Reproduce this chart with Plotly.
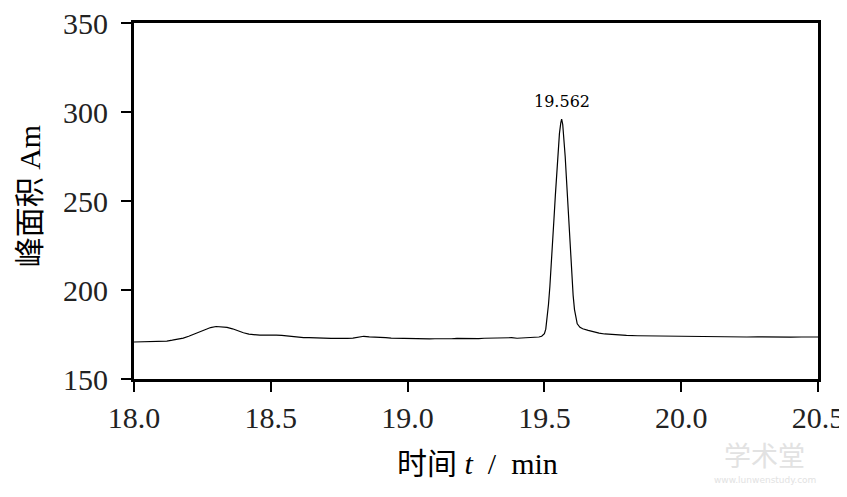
import plotly.graph_objects as go

# retention time (min) and detector response (Am)
time_min = [
    18.00, 18.02, 18.04, 18.06, 18.08, 18.10, 18.12, 18.14, 18.16, 18.18,
    18.20, 18.22, 18.24, 18.26, 18.28, 18.30, 18.32, 18.34, 18.36, 18.38,
    18.40, 18.42, 18.44, 18.46, 18.48, 18.50, 18.52, 18.54, 18.56, 18.58,
    18.60, 18.62, 18.64, 18.66, 18.68, 18.70, 18.72, 18.74, 18.76, 18.78,
    18.80, 18.82, 18.84, 18.86, 18.88, 18.90, 18.92, 18.94, 18.96, 18.98,
    19.00, 19.02, 19.04, 19.06, 19.08, 19.10, 19.12, 19.14, 19.16, 19.18,
    19.20, 19.22, 19.24, 19.26, 19.28, 19.30, 19.32, 19.34, 19.36, 19.38,
    19.40, 19.42, 19.44, 19.46, 19.48, 19.49, 19.50, 19.505, 19.51, 19.515,
    19.52, 19.525, 19.53, 19.535, 19.54, 19.545, 19.55, 19.555, 19.56, 19.563,
    19.567, 19.572, 19.576, 19.58, 19.585, 19.59, 19.595, 19.60, 19.605, 19.61,
    19.615, 19.62, 19.63, 19.64, 19.66, 19.68, 19.70, 19.72, 19.74, 19.76,
    19.78, 19.80, 19.84, 19.88, 19.92, 19.96, 20.00, 20.04, 20.08, 20.12,
    20.16, 20.20, 20.24, 20.28, 20.32, 20.36, 20.40, 20.44, 20.48, 20.50,
]
response = [
    170.8, 170.9, 170.7, 171.0, 170.9, 171.2, 171.3, 171.8, 172.3, 173.0,
    174.0, 175.3, 176.6, 177.8, 178.9, 179.5, 179.3, 179.0, 178.2, 177.0,
    176.0, 175.2, 174.8, 174.6, 174.7, 174.8, 174.7, 174.5, 174.1, 173.7,
    173.4, 173.3, 173.2, 173.0, 173.1, 172.9, 172.8, 172.9, 172.7, 172.8,
    173.0, 173.5, 174.0, 173.7, 173.4, 173.3, 173.2, 173.0, 172.9, 172.7,
    172.6, 172.5, 172.5, 172.4, 172.5, 172.6, 172.5, 172.7, 172.6, 172.8,
    172.7, 172.9, 172.8, 172.7, 172.9, 173.0, 172.8, 173.1, 173.0, 173.2,
    172.9, 173.1, 173.3, 173.2, 173.6, 174.0, 175.5, 178.0, 184.0, 192.0,
    202.0, 213.0, 226.0, 240.0, 253.0, 265.0, 278.0, 288.0, 294.0, 296.0,
    293.0, 285.0, 275.0, 264.0, 250.0, 236.0, 222.0, 208.0, 197.0, 189.0,
    184.0, 181.0, 179.0, 178.2, 177.3, 176.4, 175.8, 175.3, 175.0, 174.8,
    174.6, 174.5, 174.3, 174.2, 174.1, 174.0, 173.9, 173.9, 173.8, 173.8,
    173.7, 173.8, 173.6, 173.7, 173.5, 173.6, 173.5, 173.6, 173.5, 173.6,
]

peak_label = "19.562"
peak_time = 19.563
peak_value = 296.0

x_ticks = [18.0, 18.5, 19.0, 19.5, 20.0, 20.5]
x_tick_text = ["18.0", "18.5", "19.0", "19.5", "20.0", "20.5"]
y_ticks = [150, 200, 250, 300, 350]

serif = "Liberation Serif, Times New Roman, Noto Sans CJK SC, serif"

fig = go.Figure()
fig.add_trace(go.Scatter(
    x=time_min, y=response, mode="lines",
    line=dict(color="black", width=1.2), showlegend=False, hoverinfo="skip",
))

fig.add_annotation(
    x=peak_time, y=peak_value, text=peak_label, showarrow=False,
    yanchor="bottom", yshift=6,
    font=dict(family="DejaVu Serif, serif", size=16, color="black"),
)

# axis titles
fig.add_annotation(
    xref="paper", yref="paper", x=0.502, y=-0.236, yanchor="middle",
    text="时间 <i>t</i>&nbsp; /&nbsp; min", showarrow=False,
    font=dict(family=serif, size=30, color="black"),
)
fig.add_annotation(
    xref="paper", yref="paper", x=-0.153, y=0.514, xanchor="center", yanchor="middle",
    text="峰面积&nbsp;Am", textangle=-90, showarrow=False,
    font=dict(family=serif, size=30, color="black"),
)

# faint watermark
fig.add_annotation(
    xref="paper", yref="paper", x=0.922, y=-0.213, xanchor="center", yanchor="middle",
    text="学术堂", showarrow=False,
    font=dict(family="Noto Sans CJK SC", size=27, color="#e2e2e2"),
)
fig.add_annotation(
    xref="paper", yref="paper", x=0.922, y=-0.285, xanchor="center", yanchor="middle",
    text="www.lunwenstudy.com", showarrow=False,
    font=dict(family="DejaVu Sans", size=9, color="#e2e2e2"),
)

axis_common = dict(
    showline=True, linecolor="black", linewidth=3, mirror=True,
    ticks="outside", ticklen=10, tickwidth=2, tickcolor="black",
    showgrid=False, zeroline=False, automargin=False, ticklabeloverflow="allow",
    tickfont=dict(family=serif, size=30, color="#222"),
)
fig.update_xaxes(range=[18.0, 20.5], tickvals=x_ticks, ticktext=x_tick_text, **axis_common)
fig.update_yaxes(range=[150, 350], tickvals=y_ticks, ticklabelstandoff=7, **axis_common)

# the page adds an 8px body margin, so the figure is sized to fit the window
fig.update_layout(
    width=839, height=489,
    margin=dict(l=126, r=29, t=15, b=118, autoexpand=False),
    paper_bgcolor="white", plot_bgcolor="white",
)

fig.write_html("out.html")
